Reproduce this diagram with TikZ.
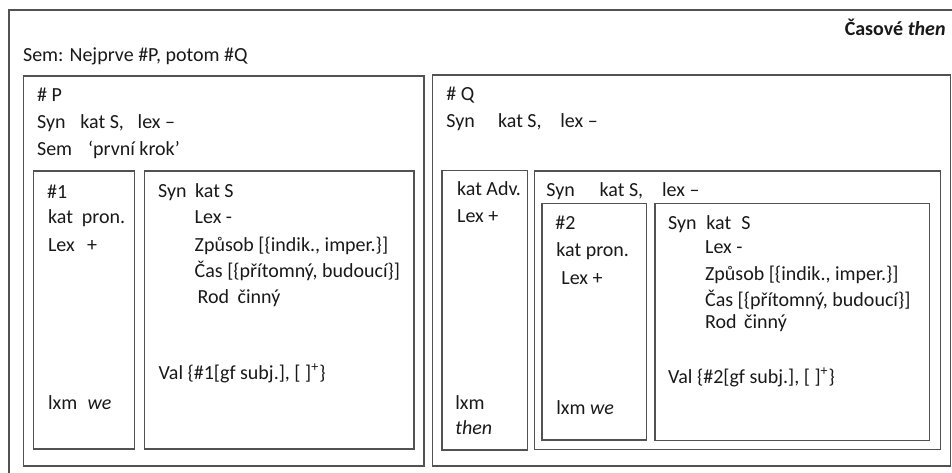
\documentclass[tikz,border=0pt]{standalone}
\usepackage{fontspec}
\setmainfont{Carlito}
% place a piece of text in a field of fixed width (column alignment)
\newcommand{\colat}[2]{\makebox[#1][l]{#2}}
\begin{document}
\begin{tikzpicture}[x=0.5pt,y=-0.5pt,
  frame/.style={draw=black!68, line width=0.7pt},
  txt/.style={anchor=base west, inner sep=0pt, text=black!90,
    font=\fontsize{10pt}{12pt}\selectfont},
  ttl/.style={anchor=base east, inner sep=0pt, text=black!90,
    font=\fontsize{10pt}{12pt}\selectfont\bfseries}]
\useasboundingbox (0,0) rectangle (952,472);
\clip (0,0) rectangle (952,472);

% frames
\draw[frame] (9,10) rectangle (980,500);
\draw[frame] (23.5,76) rectangle (424,466);
\draw[frame] (33.5,171) rectangle (134.3,449);
\draw[frame] (144.3,171) rectangle (414,449);
\draw[frame] (432.7,75) rectangle (950.7,466);
\draw[frame] (442,170.7) rectangle (527.7,450);
\draw[frame] (534.3,171) rectangle (940.3,449.5);
\draw[frame] (542,203.3) rectangle (646.7,440);
\draw[frame] (655,203.3) rectangle (929.3,440.5);

% heading
\node[ttl] (title) at (946,35) {Časové \textit{then}};
\node[txt] (sem) at (22.7,61.5) {Sem: Nejprve \#P, potom \#Q};

% #P
\node[txt] (pname) at (36.7,101) {\# P};
\node[txt] (psyn) at (36.7,128.5) {\colat{21.65pt}{Syn}\colat{28.65pt}{kat S,}lex –};
\node[txt] (psem) at (36.7,155.5) {\colat{25.5pt}{Sem}‘první krok’};

% #1
\node[txt] (n1) at (46.7,198) {\#1};
\node[txt] (n1kat) at (47.7,223) {kat~~pron.};
\node[txt] (n1lex) at (47.7,251) {\colat{19.5pt}{Lex}+};
\node[txt] (n1lxm) at (47.7,409) {\colat{19.8pt}{lxm}\textit{we}};

% verb of #P
\node[txt] (vsyn) at (157.7,197.5) {\colat{18.5pt}{Syn}kat S};
\node[txt] (vlex) at (194.3,223) {Lex -};
\node[txt] (vzp) at (194.3,251) {Způsob [\{indik., imper.\}]};
\node[txt] (vcas) at (194.3,277.7) {Čas [\{přítomný, budoucí\}]};
\node[txt] (vrod) at (197.3,303) {\colat{20pt}{Rod}činný};
\node[txt] (vval) at (158.3,379) {Val \{\#1[gf subj.], [ ]\textsuperscript{+}\}};

% #Q
\node[txt] (qname) at (446,100.7) {\# Q};
\node[txt] (qsyn) at (446,127) {\colat{25.85pt}{Syn}\colat{31.15pt}{kat S,}lex –};

% adverb
\node[txt] (akat) at (456.7,195) {kat Adv.};
\node[txt] (alex) at (456.7,222) {Lex +};
\node[txt] (alxm) at (455,409.3) {lxm};
\node[txt] (athen) at (455,434) {\textit{then}};

% clause of #Q
\node[txt] (csyn) at (546,196.7) {\colat{26.65pt}{Syn}\colat{31.2pt}{kat S,}lex –};

% #2
\node[txt] (n2) at (555,229.3) {\#2};
\node[txt] (n2kat) at (556,256.7) {kat pron.};
\node[txt] (n2lex) at (561,284.3) {Lex +};
\node[txt] (n2lxm) at (556,414) {lxm \textit{we}};

% verb of #Q
\node[txt] (wsyn) at (667.7,229.3) {\colat{19.15pt}{Syn}\colat{17.5pt}{kat}S};
\node[txt] (wlex) at (704.7,253.3) {Lex -};
\node[txt] (wzp) at (704.7,280) {Způsob [\{indik., imper.\}]};
\node[txt] (wcas) at (704.7,306) {Čas [\{přítomný, budoucí\}]};
\node[txt] (wrod) at (704.7,328) {\colat{19.5pt}{Rod}činný};
\node[txt] (wval) at (667.7,383) {Val \{\#2[gf subj.], [ ]\textsuperscript{+}\}};
\end{tikzpicture}
\end{document}
